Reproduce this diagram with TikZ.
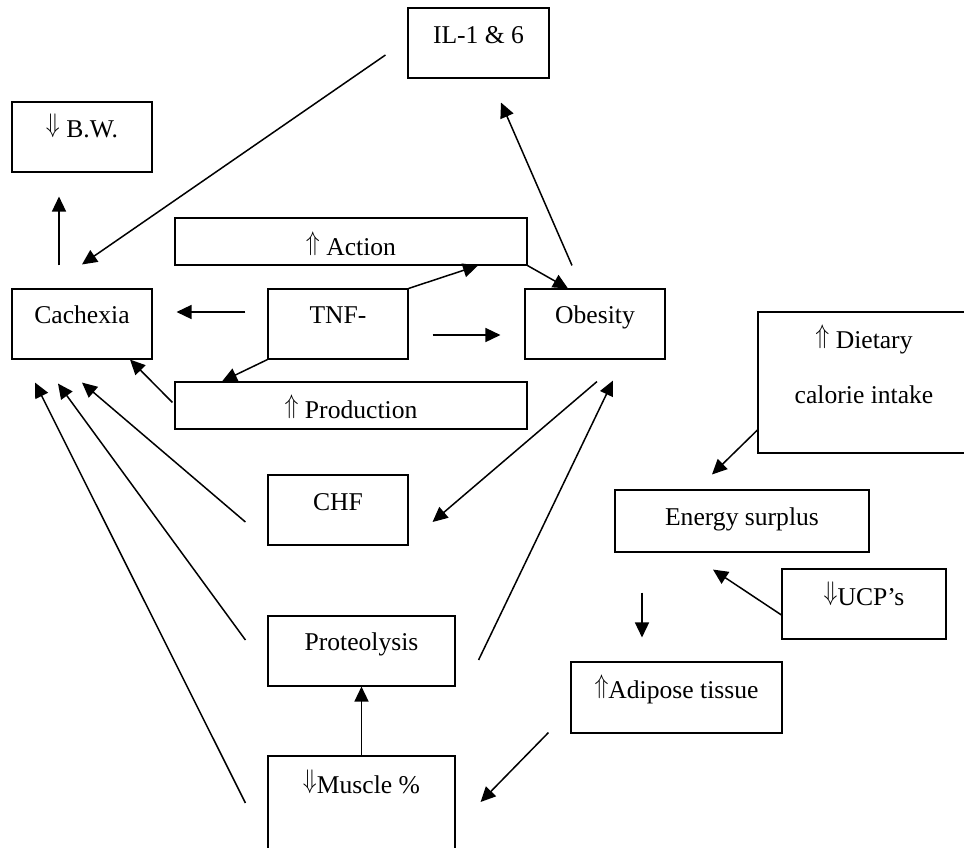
\documentclass[tikz,border=0pt]{standalone}
\usepackage{fontspec}
\usepackage{graphicx}
\setmainfont{Liberation Serif}
\usetikzlibrary{arrows.meta,calc}
\newcommand\upar{\raisebox{0.19em}{\scalebox{0.95}[1.12]{$\Uparrow$}}}
\newcommand\dnar{\raisebox{0.19em}{\scalebox{0.95}[1.12]{$\Downarrow$}}}
\begin{document}
\begin{tikzpicture}[x=0.5pt,y=-0.5pt,
	every node/.style={font=\fontsize{12.8}{15}\selectfont},
	box/.style={draw,line width=0.55pt,inner sep=0pt},
	arr/.style={line width=0.75pt,-{Triangle[length=7.5pt,width=7pt]}}]
	\useasboundingbox (0,0) rectangle (964,847);
	\node[box,minimum width=70.5pt,text height=17.5pt,text depth=17.5pt] (il) at (478.5,43) {IL-1 \& 6};
	\node[box,minimum width=70pt,text height=17.5pt,text depth=17.5pt] (bw) at (82,137) {\dnar\ B.W.};
	\node[box,minimum width=176pt,text height=18.5pt,text depth=5pt] (action) at (351,241.5) {\upar\ Action};
	\node[box,minimum width=70pt,text height=17pt,text depth=18pt] (cach) at (82,324) {Cachexia};
	\node[box,minimum width=70pt,text height=17pt,text depth=18pt] (tnf) at (338,324) {TNF-};
	\node[box,minimum width=70pt,text height=17pt,text depth=18pt] (obes) at (595,324) {Obesity};
	\node[box,minimum width=176pt,text height=18pt,text depth=5.5pt] (prod) at (351,405.5) {\upar\ Production};
	\node[box,minimum width=106pt,text height=45.5pt,text depth=25pt,align=center,
		font=\fontsize{12.8}{27.5}\selectfont] (diet) at (864,382.5) {\upar\ Dietary\\calorie intake};
	\node[box,minimum width=70pt,text height=17.5pt,text depth=17.5pt] (chf) at (338,510) {CHF};
	\node[box,minimum width=127pt,text height=17.5pt,text depth=13.5pt] (energy) at (742,521) {Energy surplus};
	\node[box,minimum width=82pt,text height=18pt,text depth=17pt] (ucp) at (864,604) {\dnar UCP’s};
	\node[box,minimum width=93.5pt,text height=17pt,text depth=18pt] (prot) at (361.5,651) {Proteolysis};
	\node[box,minimum width=105.5pt,text height=18pt,text depth=17.5pt] (adip) at (676.5,697.5) {\upar Adipose tissue};
	\node[box,minimum width=93.5pt,text height=18.5pt,text depth=33.5pt] (musc) at (361.5,808) {\dnar Muscle \%};

	\draw[arr] ($(il.west)+(-22,12)$) -- ($(cach.north)+(0,-24)$);
	\draw[arr] ($(cach.north)+(-23,-23)$) -- ($(bw.south)+(-23,24)$);
	\draw[arr] ($(obes.north)+(-23,-23)$) -- ($(il.south)+(22.5,24)$);
	\draw[arr] (action.south east) -- ($(obes.north)+(-27,0)$);
	\draw[arr] (tnf.north east) -- ($(action.south)+(127,0)$);
	\draw[arr] ($(tnf.west)+(-22,-12)$) -- ($(cach.east)+(24,-12)$);
	\draw[arr] ($(tnf.east)+(24,11)$) -- ($(obes.west)+(-24,11)$);
	\draw[arr] (tnf.south west) -- ($(prod.north)+(-129,0)$);
	\draw[arr] ($(prod.west)+(-2,-3)$) -- ($(cach.south)+(48,0)$);
	\draw[arr] ($(chf.west)+(-22,12)$) -- ($(cach.south)+(0,23)$);
	\draw[arr] ($(prot.west)+(-22,-11)$) -- ($(cach.south)+(-24,24)$);
	\draw[arr] ($(musc.west)+(-22,-5)$) -- ($(cach.south)+(-47,23)$);
	\draw[arr] (musc.north) -- (prot.south);
	\draw[arr] ($(obes.south)+(2,22)$) -- ($(chf.east)+(24,12)$);
	\draw[arr] ($(prot.east)+(23,9)$) -- ($(obes.south)+(18,21)$);
	\draw[arr] ($(diet.west)+(0,47.5)$) -- ($(energy.north)+(-30,-15)$);
	\draw[arr] ($(ucp.west)+(0,11)$) -- ($(energy.south)+(-29,17)$);
	\draw[arr] ($(energy.south)+(-100,40)$) -- ($(adip.north)+(-34.5,-24)$);
	\draw[arr] ($(adip.south west)+(-22,-1)$) -- ($(musc.east)+(25,-6)$);
\end{tikzpicture}
\end{document}
